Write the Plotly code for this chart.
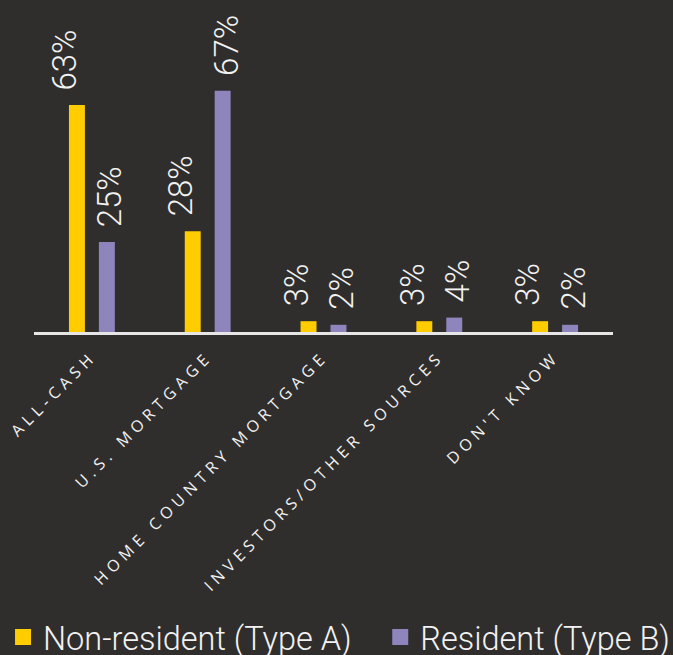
import plotly.graph_objects as go

categories = ["ALL-CASH", "U.S. MORTGAGE", "HOME COUNTRY MORTGAGE",
              "INVESTORS/OTHER SOURCES", "DON'T KNOW"]
series_a_name = "Non-resident (Type A)"
series_b_name = "Resident (Type B)"
series_a = [63, 28, 3, 3, 3]
series_b = [25, 67, 2, 4, 2]

BG = "#302e2c"
YELLOW = "#ffcc00"
PURPLE = "#8f85bd"
TEXT = "#f2f2f2"
FONT = "Roboto"

fig = go.Figure()
fig.add_trace(go.Bar(x=categories, y=series_a, name=series_a_name,
                     marker=dict(color=YELLOW, line=dict(width=0)), showlegend=False))
fig.add_trace(go.Bar(x=categories, y=series_b, name=series_b_name,
                     marker=dict(color=PURPLE, line=dict(width=0)), showlegend=False))

# legend proxies (square markers), one legend each
for nm, col, lg in [(series_a_name, YELLOW, "legend"), (series_b_name, PURPLE, "legend2")]:
    fig.add_trace(go.Scatter(x=[None], y=[None], mode="markers", name=nm, legend=lg,
                             marker=dict(symbol="square", size=16, color=col)))

annotations = []
for vals, shift in [(series_a, -27), (series_b, 18)]:
    for c, v in zip(categories, vals):
        annotations.append(dict(x=c, y=v, text=f"{v}%", showarrow=False,
                                textangle=-90, xanchor="center", yanchor="bottom",
                                xshift=shift, yshift=13,
                                font=dict(family=FONT, size=33, color=TEXT, weight=300)))

legend_common = dict(orientation="h", xref="container", yref="container",
                     xanchor="left", y=0.027, yanchor="middle", valign="bottom",
                     font=dict(family=FONT, size=32.5, color=TEXT, weight=300),
                     bgcolor="rgba(0,0,0,0)", itemclick=False, itemdoubleclick=False)

fig.update_layout(
    width=673, height=655,
    paper_bgcolor=BG, plot_bgcolor=BG,
    margin=dict(l=34, r=60, t=10, b=323),
    barmode="group", bargap=0.483, bargroupgap=0.467,
    annotations=annotations,
    showlegend=True,
    legend=dict(x=0.0045, **legend_common),
    legend2=dict(x=0.565, **legend_common),
    xaxis=dict(showline=True, linecolor="#e6e6e6", linewidth=3,
               tickangle=-45, ticks="", showgrid=False, zeroline=False,
               ticklabelstandoff=6,
               tickfont=dict(family="Open Sans", size=16, color=TEXT),
               fixedrange=True),
    yaxis=dict(visible=False, range=[0, 89.4], showgrid=False, zeroline=False,
               fixedrange=True),
)

post_script = """
document.querySelectorAll('.xtick text').forEach(function(t){
  t.style.letterSpacing = '5px';
});
"""
fig.write_html("out.html", post_script=post_script)
